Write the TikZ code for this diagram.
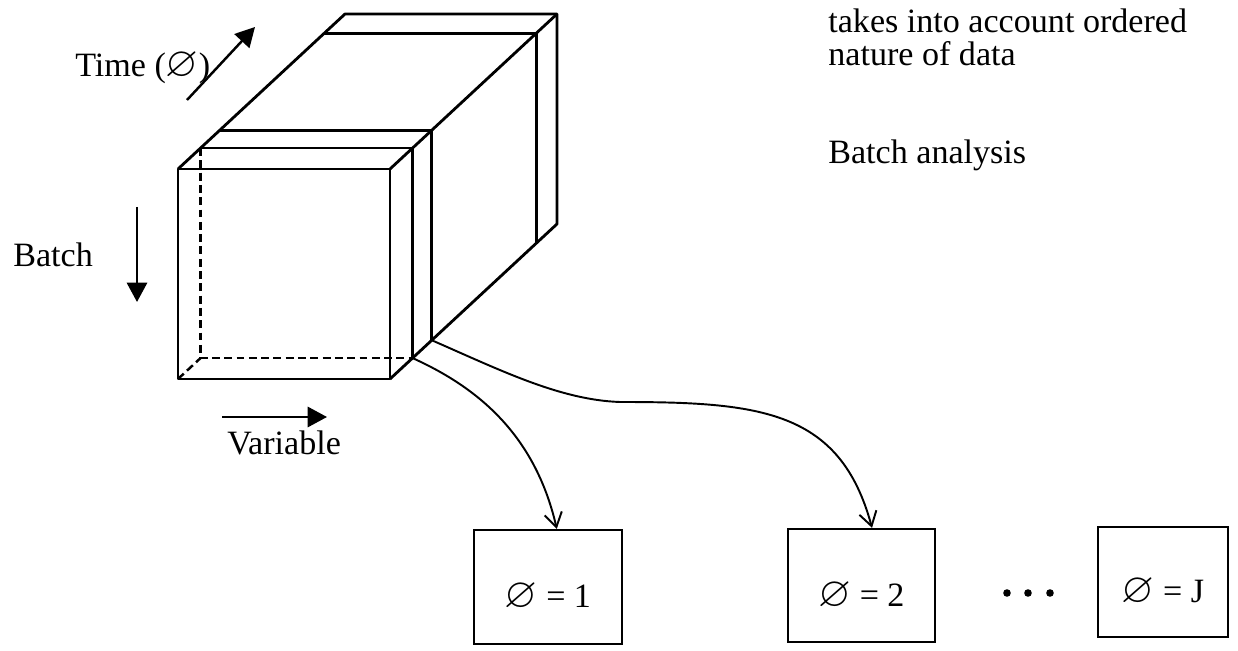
\documentclass[tikz,border=0pt]{standalone}
\usepackage{amssymb}
\usepackage{fontspec}
\setmainfont{Liberation Serif}
\usetikzlibrary{calc,arrows.meta}

\newcommand{\tsym}{{\fontsize{24}{24}\selectfont$\varnothing$}}

\begin{document}
\begin{tikzpicture}[x=0.02cm,y=-0.02cm,
    font=\fontsize{19.4}{18.4}\selectfont,
    slab/.style={line width=1.6pt,line join=round},
    hidden/.style={line width=1.4pt,dash pattern=on 4.5pt off 2.5pt},
    dirarrow/.style={line width=1.4pt,-{Triangle[length=11pt,width=11.5pt]}},
    link/.style={line width=1.1pt,-{Straight Barb[length=8pt,width=10pt]}},
    box/.style={draw,line width=1.3pt,inner sep=0pt}]
  \useasboundingbox (0,0) rectangle (1238,651);

  % the data block, front face and depth direction
  \coordinate (F1) at (178,169);
  \coordinate (F2) at (390,169);
  \coordinate (F3) at (390,379);
  \coordinate (F4) at (178,379);
  \coordinate (d) at (167,-155);
  \coordinate (B1) at ($(F1)+(d)$);
  \coordinate (B2) at ($(F2)+(d)$);
  \coordinate (B3) at ($(F3)+(d)$);
  \coordinate (B4) at ($(F4)+(d)$);
  \coordinate (S1) at ($(F3)!0.135!(B3)$);
  \coordinate (S2) at ($(F3)!0.25!(B3)$);
  \coordinate (H) at ($(F4)!0.135!(B4)$);

  \draw[slab] (F1) rectangle (F3);
  \draw[slab] (F1) -- (B1) -- (B2) -- (B3) -- (F3);
  \draw[slab] (F2) -- (B2);
  \foreach \s in {0.135,0.25,0.875}
    \draw[slab] ($(F1)!\s!(B1)$) -- ($(F2)!\s!(B2)$) -- ($(F3)!\s!(B3)$);
  % hidden edges of the first slice
  \draw[hidden] ($(F1)!0.135!(B1)$) -- (H) -- (S1);
  \draw[hidden] (F4) -- (H);

  % direction arrows
  \coordinate (T0) at (187,100);
  \coordinate (T1) at (255,27);
  \coordinate (V0) at (137,207);
  \coordinate (V1) at (137,302);
  \coordinate (W0) at (222,417);
  \coordinate (W1) at (327,417);
  \draw[dirarrow] (T0) -- (T1);
  \draw[dirarrow] (V0) -- (V1);
  \draw[dirarrow] (W0) -- (W1);
  \node[anchor=base west,inner sep=0pt] (time) at (75,77) {Time (\tsym)};
  \node[anchor=base west,inner sep=0pt] (batch) at (13,267) {Batch};
  \node[anchor=base west,inner sep=0pt] (var) at (227,455) {Variable};

  % notes
  \node[anchor=north west,inner sep=0pt,align=left] (note) at (828,9)
    {takes into account ordered\\nature of data};
  \node[anchor=base west,inner sep=0pt] (ba) at (828,164) {Batch analysis};

  % one box per time slice
  \node[box,minimum width=2.96cm,minimum height=2.28cm] (b1) at (548,587) {};
  \node[box,minimum width=2.94cm,minimum height=2.26cm] (b2) at (861.5,585.5) {};
  \node[box,minimum width=2.60cm,minimum height=2.20cm] (b3) at (1163,582) {};
  \node (l1) at ($(b1)+(0,10)$) {\tsym{} = 1};
  \node (l2) at ($(b2)+(0,10)$) {\tsym{} = 2};
  \node (l3) at ($(b3)+(0,10)$) {\tsym{} = J};
  \foreach \x in {1007,1028,1050}
    \fill (\x,593) circle (3.8);

  \draw[link] (S1) .. controls (472,385) and (534,430) .. ([xshift=5pt]b1.north);
  \draw[link] (S2) .. controls (500,370) and (560,400) .. (620,402)
    .. controls (760,402) and (840,410) .. ([xshift=6pt]b2.north);
\end{tikzpicture}
\end{document}
